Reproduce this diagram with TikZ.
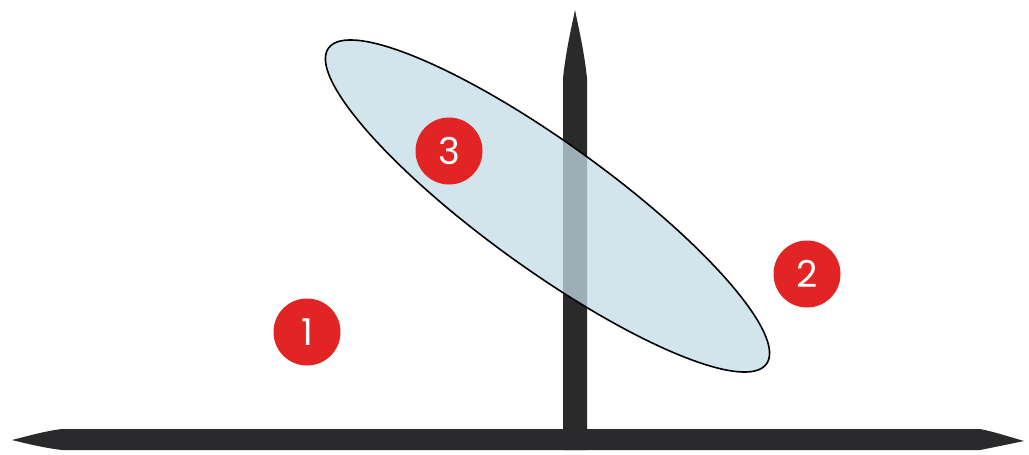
\documentclass[tikz,border=0pt]{standalone}
\usepackage{fontspec}
\setmainfont{Poppins}
\definecolor{barcol}{RGB}{42,42,44}
\definecolor{ellfill}{RGB}{195,219,229}
\definecolor{badgered}{RGB}{226,36,36}
\begin{document}
\begin{tikzpicture}[x=1pt,y=-1pt,
  bar/.style={fill=barcol,draw=none},
  badge/.style={circle,fill=badgered,draw=none,minimum size=67pt,inner sep=0pt,
    text=white,font=\fontsize{37}{37}\selectfont}]
\useasboundingbox (0,0) rectangle (1029,455);
% vertical axis
\fill[bar] (563,450) -- (563,78) .. controls (566,50) and (572,25) .. (575,10)
  .. controls (578,25) and (584,50) .. (587,78) -- (587,450) -- cycle;
% horizontal axis
\fill[bar] (12,440) .. controls (28,436) and (45,431) .. (62,429) -- (980,429)
  .. controls (995,432) and (1010,437) .. (1024,441)
  .. controls (1010,444) and (995,447) .. (980,450) -- (62,450)
  .. controls (45,448) and (28,444) .. (12,440) -- cycle;
% ellipse
\draw[black,line width=1.6pt,fill=ellfill,fill opacity=0.75]
  (547.5,206) ellipse[x radius=270,y radius=63,rotate=-35.8];
% badges
\node[badge] (b1) at (307,332) {1};
\node[badge] (b2) at (807,274) {2};
\node[badge] (b3) at (449,151) {3};
\end{tikzpicture}
\end{document}
